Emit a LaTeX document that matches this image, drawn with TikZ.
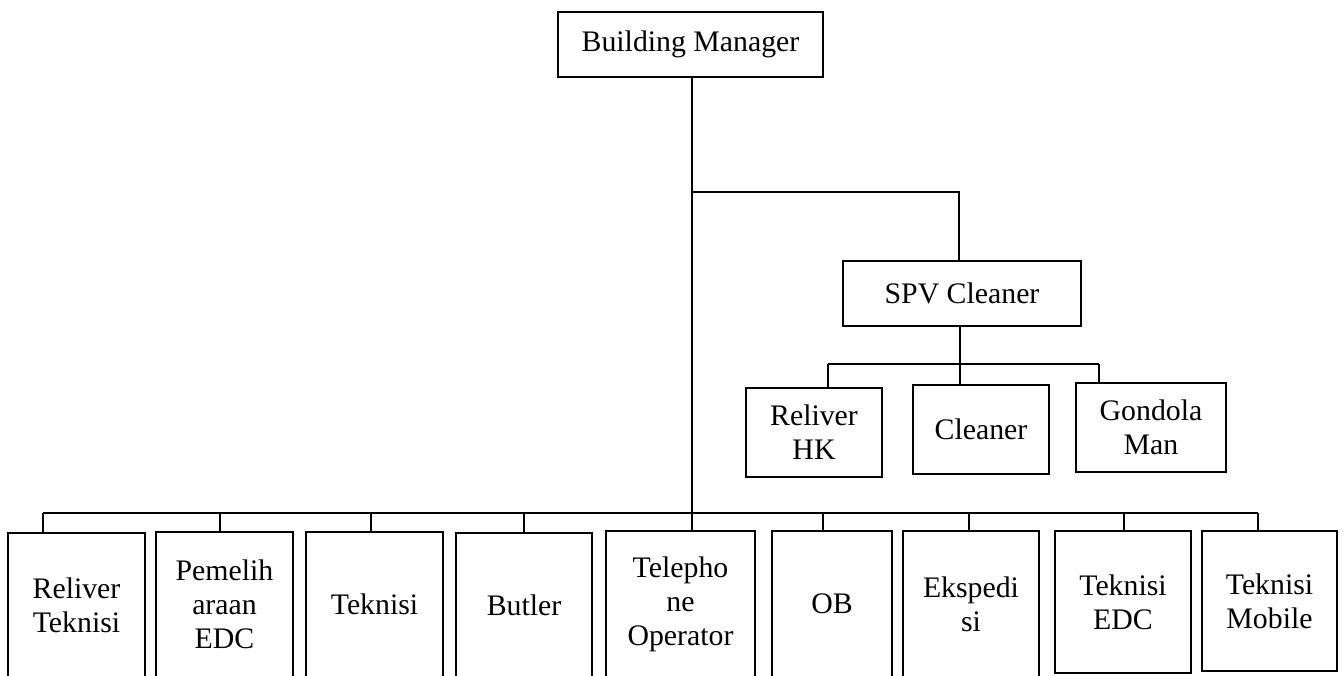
\documentclass[tikz,border=0pt]{standalone}
\usepackage{fontspec}
\setmainfont{Liberation Serif}
\begin{document}
\begin{tikzpicture}[x=1pt,y=-1pt,
  box/.style={draw,line width=1.3pt,inner sep=0pt,align=center,
    font=\fontsize{29.8}{34}\selectfont},
  conn/.style={line width=1.8pt}]
\useasboundingbox (0,0) rectangle (1343,675);
\clip (0,0) rectangle (1343,675);
% top
\node[box,minimum width=265,minimum height=65] (bm) at (690.5,44.5) {Building Manager};
\node[box,minimum width=238,minimum height=65] (spv) at (962,293.5) {SPV Cleaner};
% cleaner sub-boxes
\node[box,minimum width=136,minimum height=89] (rhk) at (814,432.5) {Reliver\\HK};
\node[box,minimum width=136,minimum height=89] (cl) at (981,429.5) {Cleaner};
\node[box,minimum width=150,minimum height=89] (gm) at (1151,427.5) {Gondola\\Man};
% bottom boxes
\node[box,minimum width=137,minimum height=144] (rt) at (76.5,605) {Reliver\\Teknisi};
\node[box,minimum width=137,minimum height=145] (pe) at (224.5,604.5) {Pemelih\\araan\\EDC};
\node[box,minimum width=137,minimum height=145] (tk) at (374.5,604.5) {Teknisi};
\node[box,minimum width=136,minimum height=144] (bu) at (524,605) {Butler};
\node[box,minimum width=149,minimum height=146] (to) at (680.5,604) {Telepho\\ne\\Operator};
\node[box,minimum width=120,minimum height=146] (ob) at (832,604) {OB};
\node[box,minimum width=136,minimum height=146] (ek) at (971,604) {Ekspedi\\si};
\node[box,minimum width=136,minimum height=142] (te) at (1123,602) {Teknisi\\EDC};
\node[box,minimum width=135,minimum height=140] (tm) at (1269.5,601) {Teknisi\\Mobile};
% junction coordinates
\coordinate (j1) at (692,192);
\coordinate (j2) at (959,192);
\coordinate (s0) at (960,364);
\coordinate (s1) at (828,364);
\coordinate (s3) at (1099,364);
\coordinate (bb) at (692,513);
\coordinate (b1) at (43,513);
\coordinate (b2) at (220,513);
\coordinate (b3) at (371,513);
\coordinate (b4) at (524,513);
\coordinate (b6) at (823,513);
\coordinate (b7) at (969,513);
\coordinate (b8) at (1124,513);
\coordinate (b9) at (1258,513);
% connectors
\draw[conn] (bm.south -| j1) -- (j1) -- (bb) -- (bb |- to.north);
\draw[conn] (j1) -- (j2) -- (j2 |- spv.north);
\draw[conn] (spv.south -| s0) -- (s0);
\draw[conn] (s1) -- (s3);
\draw[conn] (s1) -- (s1 |- rhk.north);
\draw[conn] (s0) -- (s0 |- cl.north);
\draw[conn] (s3) -- (s3 |- gm.north);
\draw[conn] (b1) -- (b9);
\draw[conn] (b1) -- (b1 |- rt.north);
\draw[conn] (b2) -- (b2 |- pe.north);
\draw[conn] (b3) -- (b3 |- tk.north);
\draw[conn] (b4) -- (b4 |- bu.north);
\draw[conn] (b6) -- (b6 |- ob.north);
\draw[conn] (b7) -- (b7 |- ek.north);
\draw[conn] (b8) -- (b8 |- te.north);
\draw[conn] (b9) -- (b9 |- tm.north);
\end{tikzpicture}
\end{document}
